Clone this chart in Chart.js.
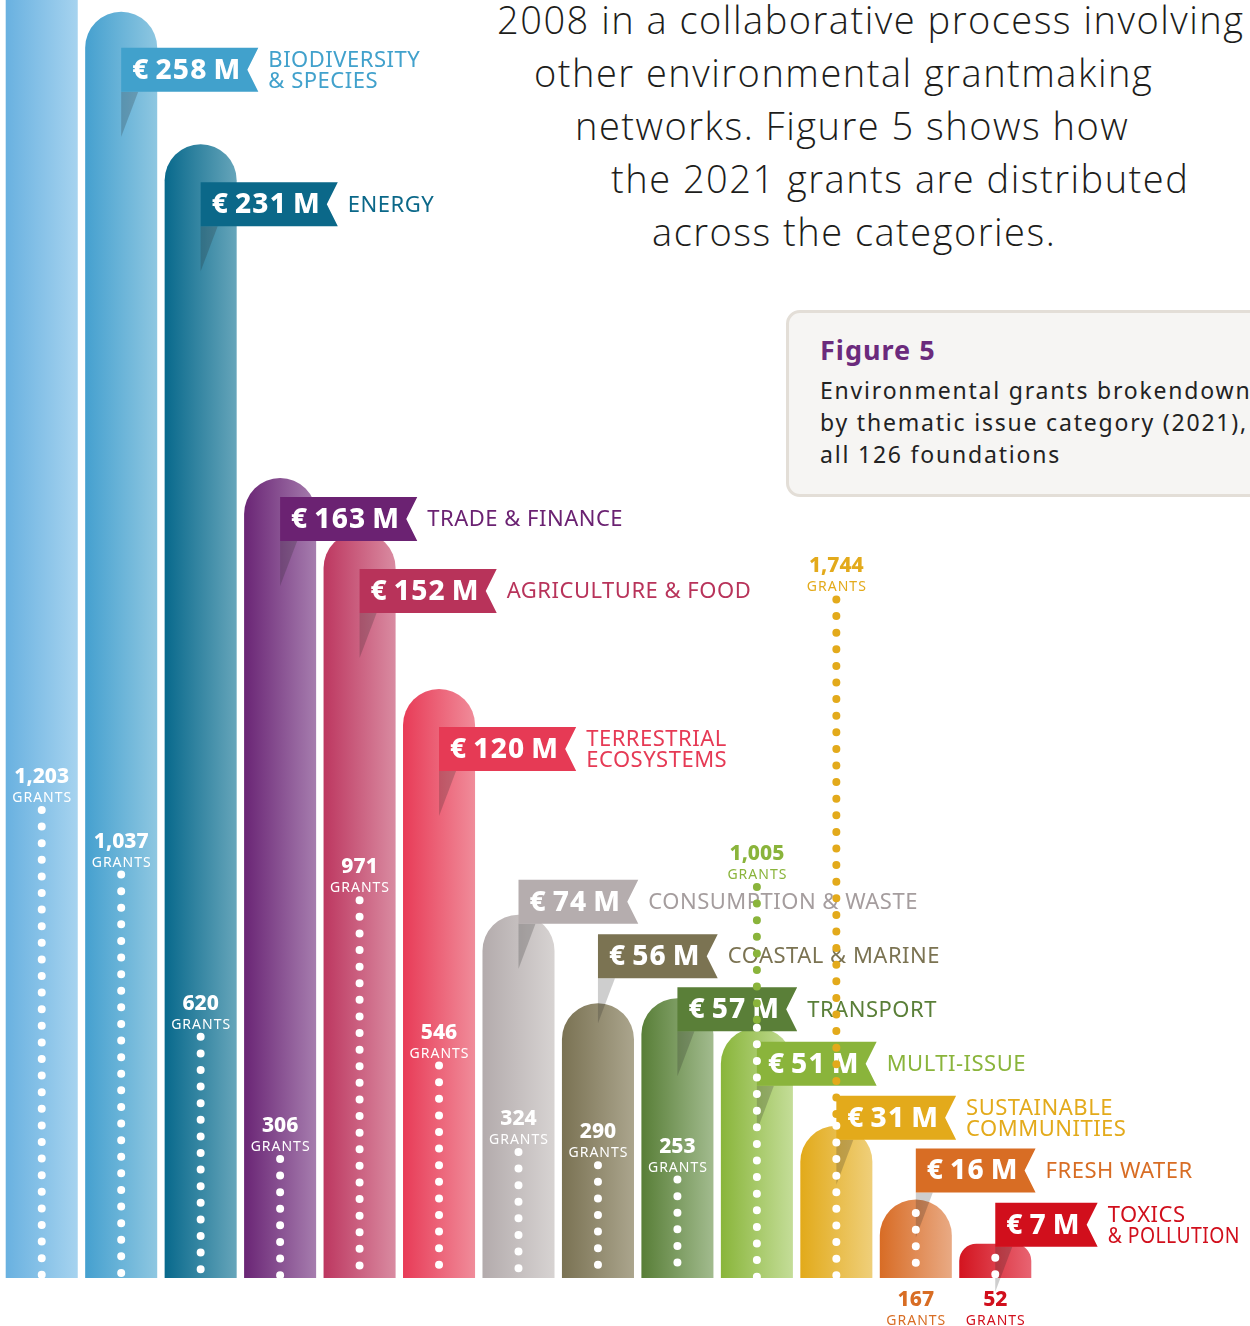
<!DOCTYPE html>
<html>
<head>
<title>Figure 5</title>
<script src="https://cdn.jsdelivr.net/npm/chart.js@4.4.0/dist/chart.umd.min.js"></script>
<style>
  body { margin: 0; width: 1250px; height: 1326px; overflow: hidden; background: #fff; position: relative; }
  #chart { position: absolute; left: 0; top: 0; }
  .intro { position: absolute; white-space: nowrap; font-family: "Open Sans", sans-serif; font-weight: 300;
           font-size: 38px; line-height: 53px; letter-spacing: 1.5px; color: #1d1d1b; }
  .box { position: absolute; left: 786px; top: 310px; width: 600px; height: 181px; background: #f6f5f3;
         border: 3px solid #e3ded7; border-radius: 14px; font-family: "Noto Sans", sans-serif; }
  .box h3 { margin: 0; position: absolute; left: 31px; top: 18px; font-size: 27px; font-weight: 700;
            letter-spacing: 1px; color: #6b2a7c; }
  .box p { margin: 0; position: absolute; left: 31px; top: 61px; font-size: 23px; line-height: 32px; color: #222;
           letter-spacing: 1.8px; }
</style>
</head>
<body>
<div class="intro" style="left:497px;top:-7px">2008 in a collaborative process involving</div>
<div class="intro" style="left:534px;top:46px">other environmental grantmaking</div>
<div class="intro" style="left:575px;top:99px">networks. Figure 5 shows how</div>
<div class="intro" style="left:611px;top:152px">the 2021 grants are distributed</div>
<div class="intro" style="left:652px;top:205px">across the categories.</div>

<div class="box">
  <h3>Figure 5</h3>
  <p>Environmental grants brokendown<br>by thematic issue category (2021),<br>all 126 foundations</p>
</div>

<canvas id="chart" width="1250" height="1326"></canvas>
<script>
// values (first bar runs off the top of the page)
var categories = ["Climate & atmosphere", "Biodiversity & species", "Energy", "Trade & finance",
  "Agriculture & food", "Terrestrial ecosystems", "Consumption & waste", "Coastal & marine",
  "Transport", "Multi-issue", "Sustainable communities", "Fresh water", "Toxics & pollution"];
var amountsM = [300, 258, 231, 163, 152, 120, 74, 56, 57, 51, 31, 16, 7];
var grantCounts = [1203, 1037, 620, 306, 971, 546, 324, 290, 253, 1005, 1744, 167, 52];
var labelLines = [[], ["BIODIVERSITY", "& SPECIES"], ["ENERGY"], ["TRADE & FINANCE"],
  ["AGRICULTURE & FOOD"], ["TERRESTRIAL", "ECOSYSTEMS"], ["CONSUMPTION & WASTE"],
  ["COASTAL & MARINE"], ["TRANSPORT"], ["MULTI-ISSUE"], ["SUSTAINABLE", "COMMUNITIES"],
  ["FRESH WATER"], ["TOXICS", "& POLLUTION"]];

// colours
var barDark  = ["#69b1e0", "#45a0cf", "#08698c", "#6a2575", "#bd3760", "#e83b57", "#b3abac",
  "#7a7253", "#587e37", "#89b53a", "#e2aa1a", "#d86c25", "#d3141f"];
var barLight = ["#a6d3ef", "#8ec7e1", "#66a5ba", "#a67dae", "#d98ba1", "#f08c9a", "#d7d3d2",
  "#aba58d", "#a2bb8e", "#c4dd98", "#efcf7a", "#e9aa84", "#e86472"];
var accent   = ["#5aa9dc", "#41a1cc", "#0b6889", "#6b2272", "#b8335a", "#e63a55", "#b5adae",
  "#7b7352", "#5a7f38", "#8ab43b", "#e3aa1b", "#d86d24", "#d10f1c"];
var labelColor = accent.slice();
labelColor[6] = "#a59d9e";

// layout: where each ribbon sits relative to its bar top (px)
var flagOffset = [null, 36, 38, 19, 37, 38, -35, -69, -11, 14, -30, -51, -41];

var Y_MAX = 260.4, Y2_MAX = 3285;

function barGradient(ctx) {
  var chart = ctx.chart, i = ctx.dataIndex;
  if (!chart.chartArea || i === undefined) return barDark[i || 0];
  var cx = chart.scales.x.getPixelForValue(i);
  var g = chart.ctx.createLinearGradient(cx - 36, 0, cx + 36, 0);
  g.addColorStop(0, barDark[i]);
  g.addColorStop(1, barLight[i]);
  return g;
}

var grantSets = grantCounts.map(function (g, i) {
  var barTopG = amountsM[i] * Y2_MAX / Y_MAX;
  var above = g > barTopG;
  var pts = above
    ? [{ x: categories[i], y: g }, { x: categories[i], y: barTopG }, { x: categories[i], y: 0 }]
    : [{ x: categories[i], y: g }, { x: categories[i], y: 0 }];
  return {
    type: "line", data: pts, yAxisID: "y2", order: 1,
    borderColor: "#fff", borderWidth: 8, borderDash: [0, 16.6], borderCapStyle: "round",
    pointRadius: 0, pointHoverRadius: 0, fill: false,
    segment: { borderColor: function (s) { return above && s.p0DataIndex === 0 ? accent[i] : "#fff"; } }
  };
});

var flagPlugin = {
  id: "flags",
  afterDatasetDraw: function (chart, args) {
    if (args.index !== 0) return;
    var c = chart.ctx, xs = chart.scales.x, ys = chart.scales.y;
    c.save();
    amountsM.forEach(function (v, i) {
      if (flagOffset[i] === null) return;
      var cx = xs.getPixelForValue(i);
      var top = ys.getPixelForValue(v) + flagOffset[i];
      var h = 44;
      var txt = "€\u2009" + v + "\u2009M";
      c.font = '800 28px "Noto Sans"';
      c.letterSpacing = "1.2px";
      var w = c.measureText(txt).width + 28;
      // fold shadow
      c.fillStyle = "rgba(30,30,30,0.22)";
      c.beginPath();
      c.moveTo(cx, top + h); c.lineTo(cx + 17, top + h); c.lineTo(cx, top + h + 45);
      c.closePath(); c.fill();
      // ribbon
      c.fillStyle = accent[i];
      c.beginPath();
      c.moveTo(cx, top); c.lineTo(cx + w, top); c.lineTo(cx + w - 11, top + h / 2);
      c.lineTo(cx + w, top + h); c.lineTo(cx, top + h);
      c.closePath(); c.fill();
      c.fillStyle = "#fff"; c.textBaseline = "middle"; c.textAlign = "left";
      c.fillText(txt, cx + 11, top + h / 2 + 1);
      // category name
      c.font = '400 22px "Noto Sans"';
      c.letterSpacing = "0.5px";
      c.fillStyle = labelColor[i];
      var lx = cx + w + 10, lines = labelLines[i];
      var maxW = chart.width - 10 - lx;
      if (lines.length === 1) c.fillText(lines[0], lx, top + h / 2 + 1, maxW);
      else {
        c.fillText(lines[0], lx, top + h / 2 - 9, maxW);
        c.fillText(lines[1], lx, top + h / 2 + 12, maxW);
      }
    });
    c.restore();
  },
  afterDatasetsDraw: function (chart) {
    var c = chart.ctx, xs = chart.scales.x, ys = chart.scales.y, y2 = chart.scales.y2;
    var base = ys.getPixelForValue(0);
    c.save();
    c.textAlign = "center"; c.textBaseline = "middle";
    grantCounts.forEach(function (g, i) {
      var cx = xs.getPixelForValue(i);
      var gt = y2.getPixelForValue(g);
      var bt = ys.getPixelForValue(amountsM[i]);
      var numY, capY, col;
      if (gt - 45 > bt) { numY = gt - 33; capY = gt - 12; col = "#fff"; }
      else if (gt < bt) { numY = gt - 33; capY = gt - 12; col = accent[i]; }
      else { numY = base + 22; capY = base + 43; col = accent[i]; }
      c.fillStyle = col;
      c.font = '800 21px "Noto Sans"';
      c.letterSpacing = "0px";
      c.fillText(g.toLocaleString("en-US"), cx, numY);
      c.font = '400 14px "Noto Sans"';
      c.letterSpacing = "1px";
      c.fillText("GRANTS", cx + 0.5, capY);
    });
    c.restore();
  }
};

new Chart(document.getElementById("chart"), {
  type: "bar",
  data: {
    labels: categories,
    datasets: [{
      label: "€ million",
      data: amountsM,
      order: 2,
      backgroundColor: barGradient,
      borderRadius: { topLeft: 36, topRight: 36, bottomLeft: 0, bottomRight: 0 },
      borderSkipped: false,
      categoryPercentage: 1,
      barPercentage: 0.9066
    }].concat(grantSets)
  },
  options: {
    responsive: false,
    animation: false,
    devicePixelRatio: 1,
    layout: { padding: { left: 2, right: 215, top: 0, bottom: 48 } },
    plugins: { legend: { display: false }, tooltip: { enabled: false } },
    scales: {
      x: { display: false, offset: true },
      y: { display: false, min: 0, max: Y_MAX },
      y2: { display: false, min: 0, max: Y2_MAX }
    }
  },
  plugins: [flagPlugin]
});
</script>
</body>
</html>
